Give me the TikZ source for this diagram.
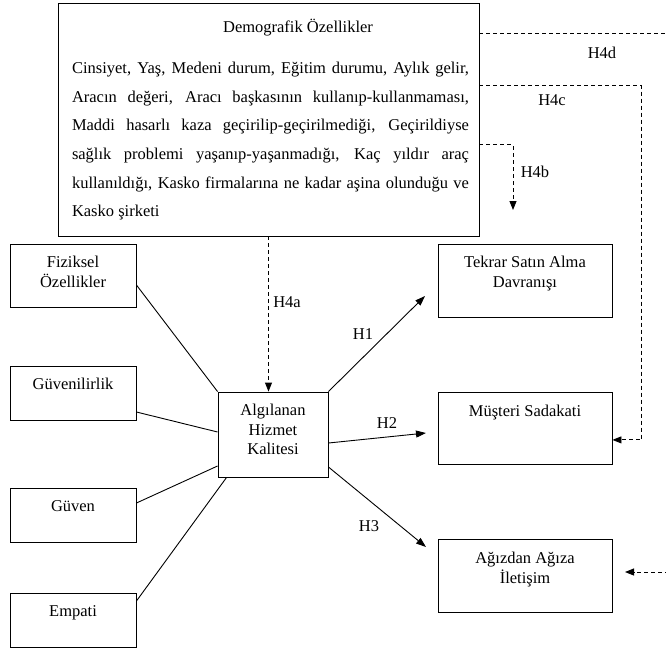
\documentclass[tikz,border=0pt]{standalone}
\usepackage{fontspec}
\setmainfont{Liberation Serif}
\usetikzlibrary{arrows.meta,positioning}

\begin{document}
\begin{tikzpicture}[x=1pt,y=-1pt,
    kutu/.style={draw,line width=0.9pt,inner sep=0pt,minimum width=126pt},
    yazi/.style={anchor=north,align=center,inner sep=0pt,yshift=-12.5pt,
      font=\fontsize{16.5}{19.5}\selectfont},
    etiket/.style={inner sep=0pt,font=\fontsize{16.5}{19.5}\selectfont},
    baglanti/.style={line width=0.9pt},
    ok/.style={-{Triangle[length=10pt,width=7pt]},line width=0.9pt},
    kesik/.style={-{Triangle[length=9pt,width=7pt]},line width=0.9pt,
      dash pattern=on 4pt off 3pt}]
  \useasboundingbox (0,0) rectangle (666,651);

  \node[draw,line width=0.9pt,inner sep=0pt,minimum width=421pt,
    minimum height=233pt] (demog) at (268.5,119.5) {};
  \node[etiket] (baslik) at (298,28) {Demografik Özellikler};
  \node[etiket,anchor=north,text width=397pt,align=justify,
    font=\fontsize{16.5}{28.6}\selectfont] (liste) at (270.5,62)
    {\hyphenpenalty=10000\exhyphenpenalty=10000\tolerance=10000
     Cinsiyet, Yaş, Medeni durum, Eğitim durumu, Aylık gelir,\linebreak
     Aracın değeri, Aracı başkasının kullanıp-kullanmaması,\linebreak
     Maddi hasarlı kaza geçirilip-geçirilmediği, Geçirildiyse\linebreak
     sağlık problemi yaşanıp-yaşanmadığı, Kaç yıldır araç\linebreak
     kullanıldığı, Kasko firmalarına ne kadar aşina olunduğu ve\linebreak
     Kasko şirketi};

  \node[kutu,minimum height=63pt,
    label={[yazi]north:{Fiziksel\\Özellikler}}] (fiziksel) at (73,275.5) {};
  \node[kutu,minimum height=54pt,
    label={[yazi]north:Güvenilirlik}] (guvenilir) at (73,393) {};
  \node[kutu,minimum height=54pt,
    label={[yazi]north:Güven}] (guven) at (73,515) {};
  \node[kutu,minimum height=54pt,
    label={[yazi]north:Empati}] (empati) at (73,620) {};

  \node[kutu,minimum width=110pt,minimum height=85pt,
    label={[yazi]north:{Algılanan\\Hizmet\\Kalitesi}}] (algilanan) at (273,434.5) {};

  \node[kutu,minimum width=174pt,minimum height=73pt,
    label={[yazi]north:{Tekrar Satın Alma\\Davranışı}}] (tekrar) at (525,280.5) {};
  \node[kutu,minimum width=174pt,minimum height=72pt,below=75pt of tekrar,
    label={[yazi]north:Müşteri Sadakati}] (musteri) {};
  \node[kutu,minimum width=174pt,minimum height=73pt,below=74pt of musteri,
    label={[yazi]north:{Ağızdan Ağıza\\İletişim}}] (agiz) {};

  \draw[baglanti] ([yshift=-9.5pt]fiziksel.east) -- (algilanan.north west);
  \draw[baglanti] ([yshift=-19pt]guvenilir.east) -- ([yshift=2.5pt]algilanan.west);
  \draw[baglanti] ([yshift=12pt]guven.east) -- ([yshift=-31.5pt]algilanan.west);
  \draw[baglanti] ([yshift=19pt]empati.east) -- ([xshift=9pt]algilanan.south west);

  \coordinate (h1uc) at (425,296);
  \coordinate (h2uc) at (426,433);
  \coordinate (h3uc) at (426,547);
  \draw[ok] (algilanan.north east) -- (h1uc);
  \draw[ok] ([yshift=-8.5pt]algilanan.east) -- (h2uc);
  \draw[ok] ([yshift=-32.5pt]algilanan.east) -- (h3uc);

  \coordinate (h4buc) at (513,210);
  \coordinate (h4duc) at (625,572);
  \draw[kesik] (demog.south) -- (demog.south |- algilanan.north);
  \draw[kesik] ([yshift=-142pt]demog.north east) -| (h4buc);
  \draw[kesik] ([yshift=-83pt]demog.north east) -- ++(162,0)
    |- ([yshift=-11pt]musteri.east);
  \draw[kesik] ([yshift=-31pt]demog.north east) -- ++(200,0) |- (h4duc);

  \node[etiket] (h1) at (363,334) {H1};
  \node[etiket] (h2) at (387,423) {H2};
  \node[etiket] (h3) at (369,526) {H3};
  \node[etiket] (h4a) at (287,302) {H4a};
  \node[etiket] (h4b) at (535,172) {H4b};
  \node[etiket] (h4c) at (552,100) {H4c};
  \node[etiket] (h4d) at (602,53) {H4d};
\end{tikzpicture}
\end{document}
